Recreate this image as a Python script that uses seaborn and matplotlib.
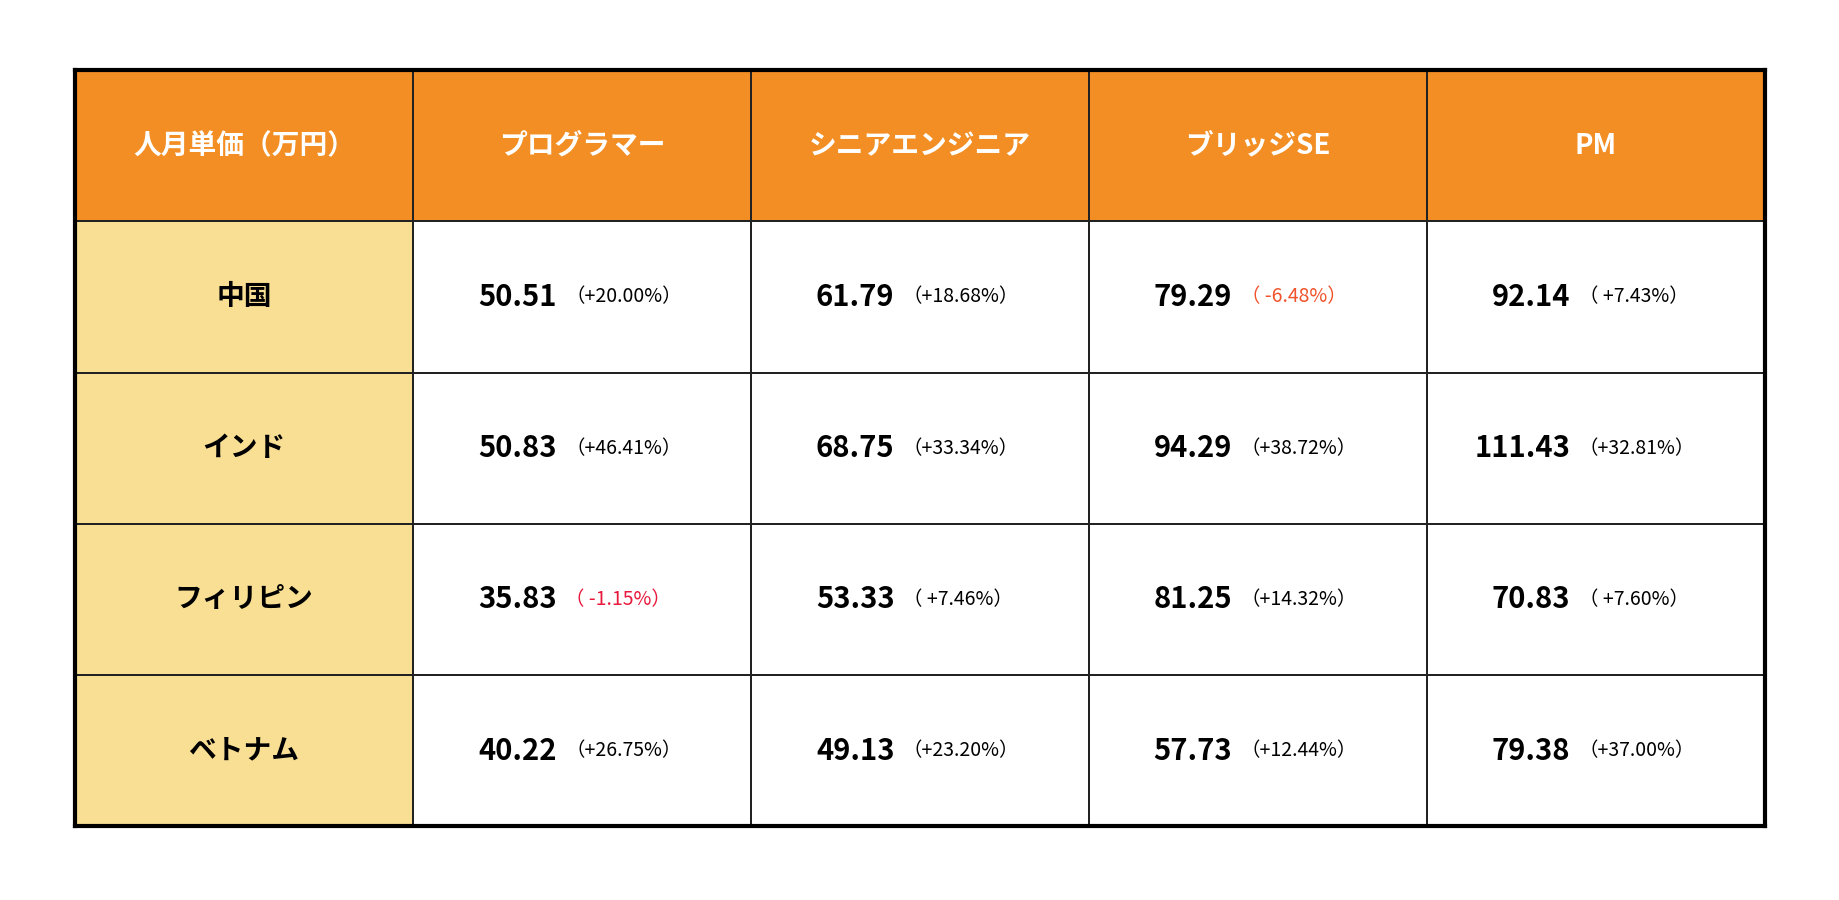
import numpy as np
import pandas as pd
import matplotlib
matplotlib.use("Agg")
import matplotlib.pyplot as plt
from matplotlib.colors import ListedColormap
import seaborn as sns

plt.rcParams["font.family"] = "Noto Sans CJK JP"

corner = "人月単価（万円）"
roles = ["プログラマー", "シニアエンジニア", "ブリッジSE", "PM"]
countries = ["中国", "インド", "フィリピン", "ベトナム"]
prices = [
    [50.51, 61.79, 79.29, 92.14],
    [50.83, 68.75, 94.29, 111.43],
    [35.83, 53.33, 81.25, 70.83],
    [40.22, 49.13, 57.73, 79.38],
]
changes = [
    [20.00, 18.68, -6.48, 7.43],
    [46.41, 33.34, 38.72, 32.81],
    [-1.15, 7.46, 14.32, 7.60],
    [26.75, 23.20, 12.44, 37.00],
]
neg_colors = {(0, 2): "#F0522A", (2, 0): "#E8193C"}

# cell colour codes: 0 white, 1 header orange, 2 row label yellow
codes = np.zeros((5, 5))
codes[0, :] = 1
codes[1:, 0] = 2
cmap = ListedColormap(["#FFFFFF", "#F28E24", "#F8DF94"])

fig = plt.figure(figsize=(18.4, 9), dpi=100)
ax = fig.add_axes([0.0408, 0.082, 0.9182, 0.840])
sns.heatmap(pd.DataFrame(codes), cmap=cmap, vmin=0, vmax=2, cbar=False,
            linewidths=1.2, linecolor="#222222", ax=ax)
ax.set_xticks([])
ax.set_yticks([])
for s in ax.spines.values():
    s.set_visible(True)
    s.set_linewidth(3)
    s.set_color("black")

ax.text(0.5, 0.5, corner, ha="center", va="center", color="white",
        fontsize=20, fontweight="bold")
for j, r in enumerate(roles):
    ax.text(j + 1.5, 0.5, r, ha="center", va="center", color="white",
            fontsize=20, fontweight="bold")
for i, c in enumerate(countries):
    ax.text(0.5, i + 1.5, c, ha="center", va="center", color="black",
            fontsize=20, fontweight="bold")
    for j in range(4):
        v = prices[i][j]
        ch = changes[i][j]
        x = j + 1.5
        y = i + 1.5
        ax.text(x - 0.075, y, f"{v:.2f}", ha="right", va="center",
                color="black", fontsize=21, fontweight="bold")
        if ch < 0:
            label = f"（ {ch:.2f}%）"
        elif ch < 10:
            label = f"（ +{ch:.2f}%）"
        else:
            label = f"（+{ch:.2f}%）"
        ax.text(x - 0.05, y, label, ha="left", va="center",
                color=neg_colors.get((i, j), "black"), fontsize=14)

fig.savefig("out.png", dpi=100, facecolor="white")
